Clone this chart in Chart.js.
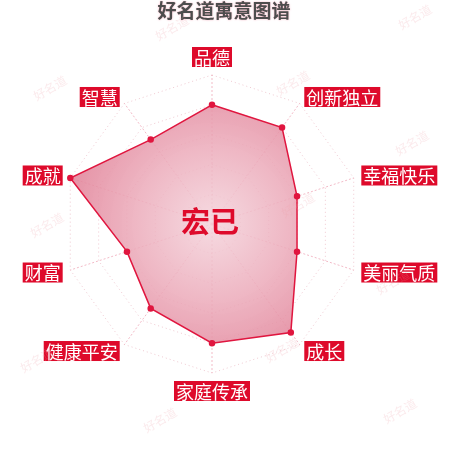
<!DOCTYPE html>
<html>
<head>
<meta charset="utf-8">
<script src="https://cdn.jsdelivr.net/npm/chart.js@4"></script>
<style>
  html, body { margin: 0; padding: 0; background: #fff; }
  #wrap { width: 450px; height: 450px; }
</style>
</head>
<body>
<div id="wrap"><canvas id="myChart" width="450" height="450"></canvas></div>
<script>
// data
const labels = ['品德', '创新独立', '幸福快乐', '美丽气质', '成长', '家庭传承', '健康平安', '财富', '成就', '智慧'];
const scores = [80, 80, 60, 60, 90, 80, 70, 60, 100, 70];
const nameText = '宏已';
const titleText = '好名道寓意图谱';
const markText = '好名道';

// watermark spots (decoration only)
const marks = [[172, 28], [415, 17], [50, 88], [293, 83], [412, 143], [47, 225], [298, 205],
  [393, 282], [37, 360], [282, 350], [160, 420], [400, 411]];

const FONT = '"Noto Sans CJK SC", "Noto Sans", sans-serif';
const RED = '#de0a2b';

const decor = {
  id: 'decor',
  afterDatasetsDraw(chart) {
    const ctx = chart.ctx;
    const s = chart.scales.r;
    // center name
    ctx.save();
    ctx.font = 'bold 29px ' + FONT;
    ctx.fillStyle = RED;
    ctx.textAlign = 'center';
    ctx.textBaseline = 'middle';
    ctx.fillText(nameText, s.xCenter - 2, s.yCenter - 2);
    ctx.restore();
  },
  afterDraw(chart) {
    const ctx = chart.ctx;
    const s = chart.scales.r;

    // title
    ctx.save();
    ctx.font = 'bold 19px ' + FONT;
    ctx.textAlign = 'center';
    ctx.textBaseline = 'middle';
    ctx.shadowColor = 'rgba(240,150,170,0.8)';
    ctx.shadowBlur = 2;
    ctx.fillStyle = '#4d4d4d';
    ctx.fillText(titleText, 224, 11);
    ctx.restore();

    // labels in red boxes
    ctx.save();
    ctx.font = '18px ' + FONT;
    ctx.textBaseline = 'middle';
    ctx.textAlign = 'left';
    for (let i = 0; i < labels.length; i++) {
      const p = s.getPointPosition(i, s.drawingArea + 8);
      const w = ctx.measureText(labels[i]).width + 4;
      const h = 20;
      let x, y;
      const dx = p.x - s.xCenter;
      if (Math.abs(dx) < 2) {
        x = p.x - w / 2;
        y = p.y < s.yCenter ? p.y - h : p.y;
      } else if (dx > 0) {
        x = p.x;
        y = p.y - h / 2;
      } else {
        x = p.x - w;
        y = p.y - h / 2;
      }
      ctx.fillStyle = RED;
      ctx.fillRect(x, y, w, h);
      ctx.fillStyle = '#fff';
      ctx.fillText(labels[i], x + 2, y + h / 2 + 1);
    }
    ctx.restore();

    // watermarks
    ctx.save();
    ctx.font = '12px ' + FONT;
    ctx.fillStyle = 'rgba(235,160,170,0.22)';
    ctx.textAlign = 'center';
    ctx.textBaseline = 'middle';
    marks.forEach(m => {
      ctx.save();
      ctx.translate(m[0], m[1]);
      ctx.rotate(-Math.PI / 6);
      ctx.fillText(markText, 0, 0);
      ctx.restore();
    });
    ctx.restore();
  }
};

const ctx = document.getElementById('myChart').getContext('2d');
const myChart = new Chart(ctx, {
  type: 'radar',
  data: {
    labels: labels,
    datasets: [{
      data: scores,
      borderColor: '#e0163f',
      borderWidth: 1.5,
      pointBackgroundColor: '#e0163f',
      pointBorderColor: '#e0163f',
      pointRadius: 2.5,
      fill: true,
      backgroundColor: function(c) {
        const chart = c.chart;
        const s = chart.scales.r;
        if (!s || !chart.chartArea) return 'rgba(232,150,170,0.75)';
        const g = chart.ctx.createRadialGradient(s.xCenter, s.yCenter, 0, s.xCenter, s.yCenter, s.drawingArea);
        g.addColorStop(0, 'rgba(244,212,220,0.85)');
        g.addColorStop(0.5, 'rgba(236,172,187,0.85)');
        g.addColorStop(1, 'rgba(225,130,152,0.88)');
        return g;
      }
    }]
  },
  options: {
    responsive: false,
    animation: false,
    layout: { padding: { left: 63, right: 89, top: 75, bottom: 77 } },
    plugins: {
      legend: { display: false },
      tooltip: { enabled: false }
    },
    scales: {
      r: {
        min: 0,
        max: 100,
        ticks: { display: false, stepSize: 20 },
        pointLabels: { display: false },
        grid: { color: 'rgba(225,150,165,0.5)', lineWidth: 1 },
        border: { dash: [1, 3] },
        angleLines: { color: 'rgba(232,120,145,0.5)', lineWidth: 1, borderDash: [2, 2] }
      }
    }
  },
  plugins: [decor]
});
</script>
</body>
</html>
